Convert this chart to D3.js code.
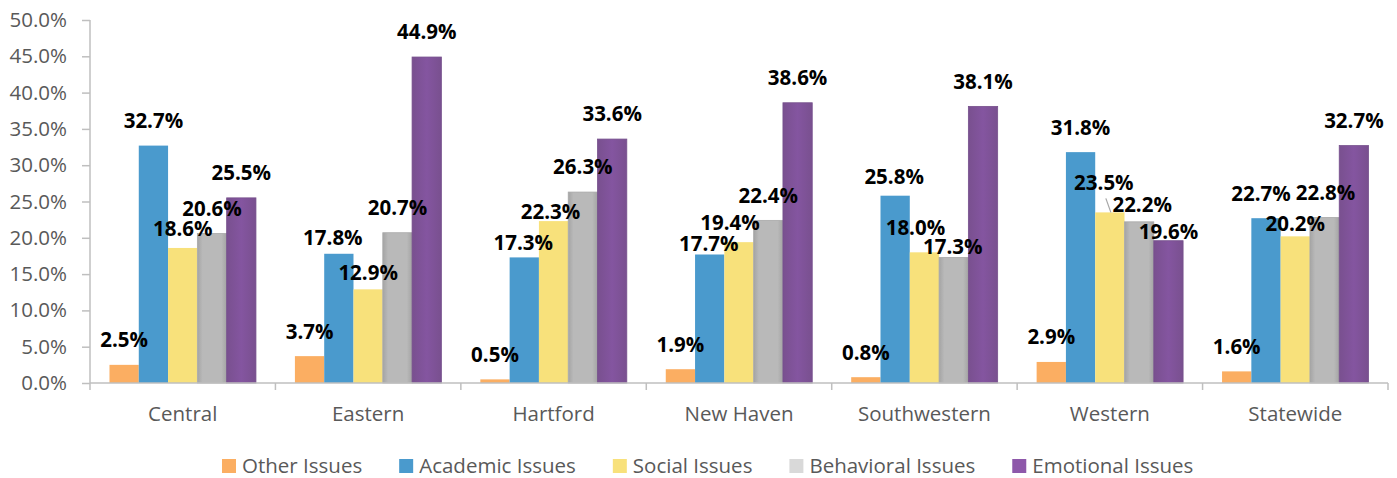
<!DOCTYPE html>
<html>
<head>
<meta charset="utf-8">
<script src="https://cdn.jsdelivr.net/npm/d3@7"></script>
<style>
  body { margin: 0; background: #fff; }
  svg text { font-family: "Open Sans", "Noto Sans", sans-serif; }
</style>
</head>
<body>
<div id="chart"></div>
<script>
// regions along the x axis
const regions = ["Central", "Eastern", "Hartford", "New Haven", "Southwestern", "Western", "Statewide"];
const seriesNames = ["Other Issues", "Academic Issues", "Social Issues", "Behavioral Issues", "Emotional Issues"];

// values in percent, one array per series (same order as regions)
const otherIssues      = [2.5, 3.7, 0.5, 1.9, 0.8, 2.9, 1.6];
const academicIssues   = [32.7, 17.8, 17.3, 17.7, 25.8, 31.8, 22.7];
const socialIssues     = [18.6, 12.9, 22.3, 19.4, 18.0, 23.5, 20.2];
const behavioralIssues = [20.6, 20.7, 26.3, 22.4, 17.3, 22.2, 22.8];
const emotionalIssues  = [25.5, 44.9, 33.6, 38.6, 38.1, 19.6, 32.7];

const yTicks = [0, 5, 10, 15, 20, 25, 30, 35, 40, 45, 50];

const seriesValues = [otherIssues, academicIssues, socialIssues, behavioralIssues, emotionalIssues];
const colors = ["#fbae62", "#4a9acd", "#f8e17b", "#b6b6b6", "#7e5296"];

// label nudges (Excel labels were dragged by hand), [dx, dy] in px
const labelNudge = {
    "Central|Social Issues": [0, 6],
    "Eastern|Academic Issues": [-6, 9],
    "Eastern|Social Issues": [0, 8],
    "Hartford|Academic Issues": [-1, 10],
    "Hartford|Social Issues": [-3, 16],
    "New Haven|Academic Issues": [-1, 14],
    "New Haven|Social Issues": [-9, 5],
    "Southwestern|Academic Issues": [-1, 6],
    "Southwestern|Social Issues": [-9, 0],
    "Southwestern|Behavioral Issues": [-1, 14],
    "Western|Social Issues": [-6, -5, true],
    "Western|Behavioral Issues": [3, 8],
    "Western|Emotional Issues": [0, 16],
    "Statewide|Academic Issues": [-5, 0],
    "Statewide|Social Issues": [0, 12],
    "Statewide|Behavioral Issues": [1, 0]
};

// flatten into rows
const rows = [];
regions.forEach((region, i) => {
    seriesNames.forEach((s, j) => {
        rows.push({ region: region, series: s, idx: j, value: seriesValues[j][i] });
    });
});

const W = 1397, H = 478;
const margin = { top: 20, right: 9, bottom: 95, left: 90 };

const svg = d3.select("#chart").append("svg")
    .attr("width", W)
    .attr("height", H);

// gradients for the grey and purple bars
const defs = svg.append("defs");
const gGrey = defs.append("linearGradient").attr("id", "gradGrey").attr("x1", "0").attr("x2", "1").attr("y1", "0").attr("y2", "0");
gGrey.append("stop").attr("offset", "0%").attr("stop-color", "#a4a4a4");
gGrey.append("stop").attr("offset", "18%").attr("stop-color", "#b9b9b9");
gGrey.append("stop").attr("offset", "82%").attr("stop-color", "#b9b9b9");
gGrey.append("stop").attr("offset", "100%").attr("stop-color", "#a4a4a4");
const gPurple = defs.append("linearGradient").attr("id", "gradPurple").attr("x1", "0").attr("x2", "1").attr("y1", "0").attr("y2", "0");
gPurple.append("stop").attr("offset", "0%").attr("stop-color", "#79508f");
gPurple.append("stop").attr("offset", "50%").attr("stop-color", "#8455a0");
gPurple.append("stop").attr("offset", "100%").attr("stop-color", "#79508f");
const fills = [colors[0], colors[1], colors[2], "url(#gradGrey)", "url(#gradPurple)"];

// scales
const x0 = d3.scaleBand()
    .domain(regions)
    .range([margin.left, W - margin.right])
    .paddingInner(0)
    .paddingOuter(0);

const x1 = d3.scaleBand()
    .domain(seriesNames)
    .range([0, x0.bandwidth()])
    .paddingInner(0)
    .paddingOuter(0.665);

const y = d3.scaleLinear()
    .domain([0, 50])
    .range([H - margin.bottom, margin.top]);

const fmt = d => d.toFixed(1) + "%";

// y axis
const yAxis = svg.append("g")
    .attr("transform", `translate(${margin.left},0)`)
    .call(d3.axisLeft(y).tickValues(yTicks).tickFormat(fmt).tickSize(8).tickPadding(15));
yAxis.select(".domain").attr("stroke", "#bfbfbf").attr("stroke-width", 1.5).attr("d", `M0,${y(50)}V${y(0)}`);
yAxis.selectAll(".tick line").attr("stroke", "#bfbfbf").attr("stroke-width", 1.5);
yAxis.selectAll(".tick text")
    .attr("fill", "#595959")
    .style("font-size", "20.5px")
    .style("font-family", "'Open Sans', sans-serif");

// bars
svg.append("g").selectAll("rect")
    .data(rows)
    .enter().append("rect")
    .attr("x", d => x0(d.region) + x1(d.series))
    .attr("y", d => y(d.value))
    .attr("width", x1.bandwidth())
    .attr("height", d => y(0) - y(d.value))
    .attr("fill", d => fills[d.idx])
    .attr("stroke", d => d.idx === 3 ? "#a9a9a9" : (d.idx === 4 ? "#76508c" : "none"))
    .attr("stroke-width", 0.8);

// x axis (drawn after bars so the line sits on top)
const xAxisG = svg.append("g").attr("transform", `translate(0,${y(0)})`);
xAxisG.append("line")
    .attr("x1", margin.left).attr("x2", W - margin.right)
    .attr("y1", 0).attr("y2", 0)
    .attr("stroke", "#bfbfbf").attr("stroke-width", 1.5);
const boundaries = regions.map(r => x0(r)).concat([x0(regions[regions.length - 1]) + x0.bandwidth()]);
xAxisG.selectAll(".xtick")
    .data(boundaries)
    .enter().append("line")
    .attr("x1", d => d).attr("x2", d => d)
    .attr("y1", 0).attr("y2", 7)
    .attr("stroke", "#bfbfbf").attr("stroke-width", 1.5);
xAxisG.selectAll(".xlab")
    .data(regions)
    .enter().append("text")
    .attr("x", d => x0(d) + x0.bandwidth() / 2)
    .attr("y", 38)
    .attr("text-anchor", "middle")
    .attr("fill", "#595959")
    .style("font-size", "20.5px")
    .text(d => d);

// data labels
const labelOffset = 25;
const labels = svg.append("g");
rows.forEach(d => {
    const nudge = labelNudge[d.region + "|" + d.series] || [0, 0];
    const cx = x0(d.region) + x1(d.series) + x1.bandwidth() / 2;
    const top = y(d.value);
    const lx = cx + nudge[0];
    const ly = top - labelOffset + nudge[1];
    if (nudge[2]) {
        // leader line back to the bar
        labels.append("line")
            .attr("x1", lx + 2).attr("y1", ly + 16)
            .attr("x2", cx + 1).attr("y2", top)
            .attr("stroke", "#a6a6a6").attr("stroke-width", 1.2);
    }
    labels.append("text")
        .attr("x", lx)
        .attr("y", ly)
        .attr("dy", "0.36em")
        .attr("text-anchor", "middle")
        .attr("fill", "#000")
        .style("font-size", "20.5px")
        .style("font-weight", "bold")
        .text(fmt(d.value));
});

// legend
const legend = svg.append("g").attr("transform", `translate(222,466)`);
let lxPos = 0;
seriesNames.forEach((s, j) => {
    const item = legend.append("g").attr("transform", `translate(${lxPos},0)`);
    item.append("rect")
        .attr("x", 0).attr("y", -7)
        .attr("width", 14).attr("height", 14)
        .attr("fill", j === 3 ? "#d9d9d9" : (j === 4 ? "#8e58aa" : colors[j]));
    const t = item.append("text")
        .attr("x", 20)
        .attr("y", 0)
        .attr("dy", "0.36em")
        .attr("fill", "#595959")
        .style("font-size", "20.5px")
        .text(s);
    lxPos += 20 + t.node().getComputedTextLength() + 37;
});
</script>
</body>
</html>
